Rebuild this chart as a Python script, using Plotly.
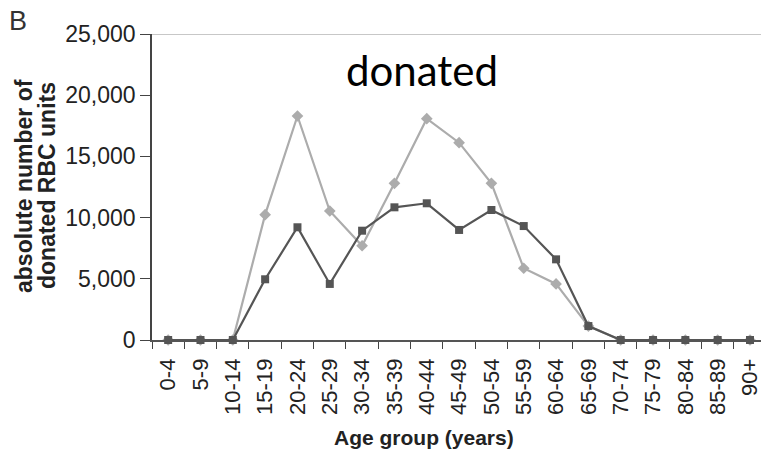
import plotly.graph_objects as go

# Age groups on the x axis
age_groups = ["0-4", "5-9", "10-14", "15-19", "20-24", "25-29", "30-34", "35-39",
              "40-44", "45-49", "50-54", "55-59", "60-64", "65-69", "70-74",
              "75-79", "80-84", "85-89", "90+"]

# Donated RBC units per age group, two donor series
series_light = [0, 0, 0, 10240, 18300, 10540, 7700, 12800, 18080, 16120,
                12800, 5860, 4580, 1140, 0, 0, 0, 0, 0]
series_dark = [0, 0, 0, 4960, 9210, 4580, 8930, 10840, 11170, 8990,
               10620, 9310, 6590, 1140, 0, 0, 0, 0, 0]

y_ticks = [0, 5000, 10000, 15000, 20000, 25000]

FONT = "Liberation Sans, Arial, sans-serif"
TXT = "#222222"

fig = go.Figure()

fig.add_trace(go.Scatter(
    x=age_groups, y=series_light, mode="lines+markers",
    line=dict(color="#acacac", width=2.2),
    marker=dict(symbol="diamond", size=9, color="#acacac"),
    showlegend=False, cliponaxis=False,
))
fig.add_trace(go.Scatter(
    x=age_groups, y=series_dark, mode="lines+markers",
    line=dict(color="#555555", width=2.2),
    marker=dict(symbol="square", size=8, color="#555555"),
    showlegend=False, cliponaxis=False,
))

# Light rule along the top of the plot area
fig.add_shape(type="line", xref="paper", yref="y", x0=0, x1=1, y0=25000, y1=25000,
              line=dict(color="#b4b4b4", width=1.6), layer="below")

annotations = [
    dict(text="B", xref="paper", yref="paper", x=-152/609, y=1 + 34/306,
         xanchor="left", yanchor="top", showarrow=False,
         font=dict(family=FONT, size=27, color="#333333"), xshift=7, yshift=-4),
    dict(text="donated", xref="paper", yref="paper", x=(422 - 152) / 609, y=1,
         xanchor="center", yanchor="top", showarrow=False,
         font=dict(family="Lato, Carlito, sans-serif", size=42, color="#000000"),
         yshift=-9),
    dict(text="<b>absolute number of</b>", xref="paper", yref="paper",
         x=-(152 - 24) / 609, y=0.5 + (340 - 186 - 153) / 306, textangle=-90,
         xanchor="center", yanchor="middle", showarrow=False,
         font=dict(family=FONT, size=23, color=TXT)),
    dict(text="<b>donated RBC units</b>", xref="paper", yref="paper",
         x=-(152 - 47) / 609, y=0.5 + (340 - 186 - 153) / 306, textangle=-90,
         xanchor="center", yanchor="middle", showarrow=False,
         font=dict(family=FONT, size=23, color=TXT)),
    dict(text="<b>Age group (years)</b>", xref="paper", yref="paper",
         x=(424 - 152) / 609, y=-(437 - 340) / 306,
         xanchor="center", yanchor="middle", showarrow=False,
         font=dict(family=FONT, size=21, color=TXT)),
]

fig.update_layout(
    width=761, height=449,
    margin=dict(l=152, r=0, t=34, b=109, pad=0),
    paper_bgcolor="white", plot_bgcolor="white",
    annotations=annotations,
    xaxis=dict(
        type="category", range=[-0.5, 18.34],
        tickmode="array", tickvals=age_groups, ticktext=age_groups,
        tickson="boundaries", ticks="outside", ticklen=7, tickwidth=1.3,
        tickcolor="#444444", tickangle=-90, ticklabelstandoff=8,
        tickfont=dict(family=FONT, size=22, color=TXT),
        showline=True, linecolor="#555555", linewidth=1.6,
        showgrid=False, zeroline=False,
    ),
    yaxis=dict(
        range=[0, 25000], tickvals=y_ticks, tickformat=",d",
        ticks="outside", ticklen=10, tickwidth=1.3, tickcolor="#444444",
        tickfont=dict(family=FONT, size=23, color=TXT),
        showline=True, linecolor="#444444", linewidth=1.6,
        showgrid=False, zeroline=False,
    ),
)

fig.write_html("out.html")
